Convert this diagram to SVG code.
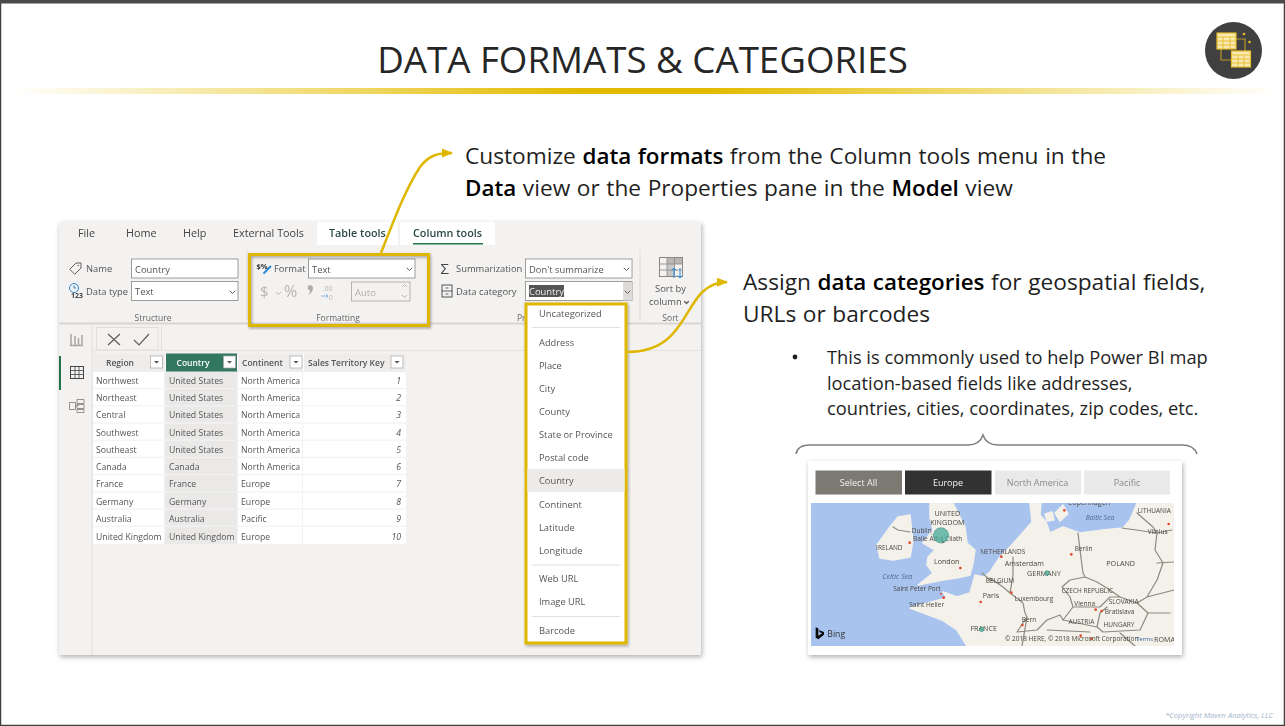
<svg xmlns="http://www.w3.org/2000/svg" width="1285" height="726" viewBox="0 0 1285 726">
<style>
text{font-family:"Open Sans","Noto Sans","Liberation Sans",sans-serif;fill:#252423}
.h{font-size:36.7px;fill:#262626}
.c{font-size:22.7px;fill:#1f1f1f;word-spacing:.7px}
.b{font-weight:600;fill:#000;font-size:22.4px}
.s{font-size:18.3px;fill:#1f1f1f}
.tab{font-size:10.8px;fill:#444}
.tt{font-size:10.8px;font-weight:600;fill:#2c4a48}
.rb{font-size:9.400px;fill:#555}
.sm{font-size:8.5px;fill:#666;text-anchor:middle}
.th{font-size:8.5px;font-weight:600;fill:#555}
.td{font-size:8.7px;fill:#555}
.n{font-size:8.7px;fill:#555;font-style:italic;text-anchor:end}
.dd{font-size:9.3px;fill:#555}
.in{fill:#fff;stroke:#8a8886;stroke-width:.8}
.ln{fill:none;stroke:#605e5c;stroke-width:1;stroke-linecap:round;stroke-linejoin:round}
.dis{fill:none;stroke:#b8b6b4;stroke-width:1}
.gold{fill:none;stroke:#dfb700;stroke-width:3}
.conn{fill:none;stroke:#dfb700;stroke-width:2.5}
.row{fill:#fff}
.cc{fill:#eae9e8}
.fb{fill:#fff;stroke:#a8a6a4;stroke-width:.7}
.sl{font-size:9px;text-anchor:middle}
.m{font-size:21.5px;fill:#4a473f;text-anchor:middle}
.ms{font-size:19.5px;fill:#4a473f;text-anchor:middle}
.bd{fill:none;stroke:#8c897f;stroke-width:1.2;stroke-linejoin:round;stroke-linecap:round}
.rd{fill:#e2492a}
.bub{fill:#4fae9c;stroke:#2f8a79;stroke-width:1.5;fill-opacity:.8}
.tg{fill:#f8e9b0;stroke:#e6bc2e;stroke-width:1.2}
.tl{stroke:#e6bc2e;stroke-width:.9}
</style>
<defs>
<linearGradient id="rule" x1="0" x2="1" y1="0" y2="0">
<stop offset="0" stop-color="#e6c200" stop-opacity="0"/>
<stop offset=".45" stop-color="#e3ba00"/>
<stop offset=".55" stop-color="#e3ba00"/>
<stop offset="1" stop-color="#e6c200" stop-opacity="0"/>
</linearGradient>
<filter id="sh" x="-5%" y="-5%" width="110%" height="110%"><feDropShadow dx="1" dy="2" stdDeviation="2.500" flood-color="#000" flood-opacity=".32"/></filter>
<filter id="sh2" x="-5%" y="-5%" width="110%" height="110%"><feDropShadow dx="1" dy="1.500" stdDeviation="1.500" flood-color="#000" flood-opacity=".35"/></filter>
<filter id="soft" x="-1%" y="-1%" width="102%" height="102%"><feGaussianBlur stdDeviation=".3"/></filter>
<filter id="softer" x="-1%" y="-1%" width="102%" height="102%"><feGaussianBlur stdDeviation=".45"/></filter>
<marker id="arr" markerUnits="userSpaceOnUse" markerWidth="12" markerHeight="10" refX="10" refY="5" orient="auto"><path d="M0 .5L11 5L0 9.500Z" fill="#dfb700"/></marker>
<clipPath id="mc"><rect x="811" y="503" width="363" height="143"/></clipPath>
<clipPath id="mz"><rect x="63" y="220" width="1089" height="429"/></clipPath>
</defs>
<rect width="1285" height="726" fill="#fff"/>
<path d="M.5 3V725.5H1284.5V3" fill="none" stroke="#404040" stroke-width="1.500"/>
<rect width="1285" height="3.500" fill="#4a4a4a"/>

<g id="title">
<text class="h" x="642.500" y="73" text-anchor="middle">DATA FORMATS &amp; CATEGORIES</text>
<rect x="10" y="88" width="1270" height="6" fill="url(#rule)"/>
</g>

<g id="logo">
<circle cx="1233.500" cy="50.500" r="28.500" fill="#404040"/>
<path d="M1236 39H1245V51M1221 48V60H1231" fill="none" stroke="#b8962a" stroke-width="1.200"/>
<rect class="tg" x="1217" y="33" width="19" height="16"/>
<path class="tl" d="M1217 37H1236M1217 41H1236M1217 45H1236M1223 37V49M1230 37V49"/>
<rect class="tg" x="1231.500" y="51" width="19" height="16"/>
<path class="tl" d="M1231.500 55H1250.500M1231.500 59H1250.500M1231.500 63H1250.500M1238 55V67M1244 55V67"/>
<circle cx="1244" cy="34" r="1.300" fill="#e6bc2e"/><circle cx="1249.500" cy="42" r="1.300" fill="#e6bc2e"/>
</g>

<g id="powerbi-window">
<rect x="59" y="222" width="642" height="433" fill="#f3f2f1" filter="url(#sh)"/>
<g filter="url(#soft)">
<rect x="317" y="222" width="81" height="23" fill="#fff"/>
<rect x="400" y="222" width="95" height="23" fill="#fff"/>
<rect x="413" y="243" width="70" height="1.500" fill="#217346"/>
<text class="tab" x="78" y="237">File</text>
<text class="tab" x="126" y="237">Home</text>
<text class="tab" x="183" y="237">Help</text>
<text class="tab" x="233" y="237">External Tools</text>
<text class="tt" x="329" y="237">Table tools</text>
<text class="tt" x="413" y="237">Column tools</text>

<path d="M247 250V320M640 250V321" stroke="#dddbd9" fill="none"/>
<path d="M59 323.500H701" stroke="#d9d7d5" stroke-width="2"/>
<path d="M92 324V655" stroke="#e1dfdd"/>
<path d="M93 350.500H701" stroke="#e6e4e2"/>

<g id="structure-group">
<path class="ln" d="M70 269L76 263H81V268L75 274ZM78 265.500h.5"/>
<text class="rb" x="86" y="272">Name</text>
<rect class="in" x="131.500" y="259" width="106.500" height="19"/>
<text class="rb" x="135" y="272.500">Country</text>
<circle cx="74" cy="288" r="4.500" fill="none" stroke="#2b88d8"/>
<path d="M74 285.500V288H76" fill="none" stroke="#2b88d8"/>
<text x="71" y="298" style="font-size:7px;font-weight:700;fill:#444">123</text>
<text class="rb" x="86" y="295">Data type</text>
<rect class="in" x="131.500" y="281.500" width="106.500" height="19"/>
<text class="rb" x="135" y="295">Text</text>
<path class="ln" d="M230 291l2.500 2.500 2.500-2.500"/>
<text class="sm" x="153" y="321">Structure</text>
</g>

<g id="formatting-group">
<text x="256.500" y="269" style="font-size:7.500px;font-weight:700;fill:#333">$%</text>
<path d="M263.500 273.500L271 266" stroke="#2b88d8" stroke-width="2"/>
<text class="rb" x="274" y="272">Format</text>
<rect class="in" x="308.500" y="259" width="106.500" height="19"/>
<text class="rb" x="312" y="272.500">Text</text>
<path class="ln" d="M407 268l2.500 2.500 2.500-2.500"/>
<text x="260" y="297" style="font-size:15px;fill:#b8b6b4">$</text>
<path class="dis" d="M276 292l2.500 2.500 2.500-2.500"/>
<text x="284" y="297" style="font-size:16px;fill:#b8b6b4">%</text>
<path d="M308.500 285.500a3 3 0 0 1 4.500 2.500c0 3-2 5.500-4.500 7c1-1.500 1.500-3 1.500-4.500a3 3 0 0 1-1.500-5z" fill="#b0aeac"/>
<text x="323" y="291" style="font-size:6.500px;fill:#b8b6b4">.00</text>
<text x="329" y="300" style="font-size:6.500px;fill:#b8b6b4">0</text>
<path d="M321 296H328M326 294L328 296L326 298" fill="none" stroke="#8fb8dc"/>
<rect x="351.500" y="282" width="58.500" height="19" fill="#f3f2f1" stroke="#a8a6a4" stroke-width=".8"/>
<text x="355" y="295.500" style="font-size:9.500px;fill:#b0aeac">Auto</text>
<path class="dis" d="M402 287l2.500-2.500 2.500 2.500M402 295l2.500 2.500 2.500-2.500"/>
<text class="sm" x="338" y="321">Formatting</text>
</g>

<g id="properties-group">
<text x="440.500" y="273.500" style="font-size:15px;fill:#444">Σ</text>
<text class="rb" x="456" y="272">Summarization</text>
<rect class="in" x="525.500" y="259" width="106.500" height="19"/>
<text class="rb" x="529" y="272.500">Don't summarize</text>
<path class="ln" d="M624 268l2.500 2.500 2.500-2.500"/>
<rect x="442" y="285" width="10" height="12" fill="none" stroke="#555"/>
<path class="ln" d="M442 291H452M446 288h2M446 294h2"/>
<text class="rb" x="456" y="295">Data category</text>
<rect class="in" x="525.500" y="281.500" width="106.500" height="19"/>
<rect x="529" y="285" width="35" height="12" fill="#555"/>
<text class="rb" x="529" y="295" style="fill:#eee">Country</text>
<rect x="623" y="282" width="9" height="18.500" fill="#dedcda"/>
<path class="ln" d="M625 291l2.500 2.500 2.500-2.500"/>
<text class="sm" x="517" y="321" style="text-anchor:start">Pr</text>
</g>

<g id="sort-group">
<rect x="659.500" y="257.500" width="23" height="19" fill="#f3f2f1" stroke="#8a8886"/>
<rect x="667" y="258" width="15" height="6" fill="#b9b7b5"/>
<rect x="667" y="264" width="7.500" height="12" fill="#c9c7c5"/>
<path d="M659.500 264H682.500M659.500 270H682.500M667 258V276M674.500 258V276" stroke="#8a8886" stroke-width=".8"/>
<path d="M674 278V268M671.500 270.500L674 268L676.500 270.500M680 268V278M677.500 275.500L680 278L682.500 275.500" fill="none" stroke="#2b88d8"/>
<text class="rb" x="670.500" y="292" text-anchor="middle">Sort by</text>
<text class="rb" x="649" y="305">column</text>
<path class="ln" d="M684.500 301.500l2 2 2-2" style="stroke-width:1.300"/>
<text class="sm" x="670.500" y="321">Sort</text>
</g>

<g id="view-rail">
<path d="M71 345V334M75 345V336M78.500 345V338M82 345V335M70 345.500H83" stroke="#a8a6a4" stroke-width="1.500" fill="none"/>
<rect x="59" y="356" width="2" height="34" fill="#217346"/>
<rect x="70.500" y="366.500" width="13" height="12" fill="none" stroke="#444"/>
<path d="M70.500 370.500H83.500M70.500 374.500H83.500M75 366.500V378.500M79 366.500V378.500" stroke="#444" stroke-width=".8"/>
<path d="M69.500 402.500h6v7h-6zM75.500 405.500h3M77 399.500h7v4h-7zM77 404.500h7v4h-7zM77 409.500h7v3h-7z" fill="none" stroke="#8a8886" stroke-width=".9"/>
</g>

<g id="formula-bar">
<rect x="96.500" y="327.500" width="61.500" height="22.500" fill="#f3f2f1" stroke="#e1dfdd"/>
<path d="M108 334L120 345M120 334L108 345" stroke="#605e5c" stroke-width="1.200"/>
<path d="M134 340L139 345L149 334" fill="none" stroke="#605e5c" stroke-width="1.200"/>
<path d="M161.500 327V350" stroke="#e1dfdd"/>
</g>

<g id="data-table">
<rect x="93" y="353.500" width="313" height="18" fill="#eeedec"/>
<rect x="166" y="353.500" width="71.500" height="18" fill="#33775f"/>
<path d="M165.500 353.500V371M237.500 353.500V371M303.500 353.500V371" stroke="#fff"/>
<text class="th" x="106" y="365.500">Region</text>
<text class="th" x="176.500" y="365.500" style="fill:#fff">Country</text>
<text class="th" x="242" y="365.500">Continent</text>
<text class="th" x="308" y="365.500">Sales Territory Key</text>
<rect class="fb" x="150.500" y="356" width="12" height="12"/>
<rect class="fb" x="223.500" y="356" width="12" height="12"/>
<rect class="fb" x="290" y="356" width="12" height="12"/>
<rect class="fb" x="391" y="356" width="12" height="12"/>
<path d="M154 361h5l-2.500 2.500zM227 361h5l-2.500 2.500zM293.500 361h5l-2.500 2.500zM394.500 361h5l-2.500 2.500z" fill="#555"/>
<g>
<rect class="row" x="93" y="372" width="71" height="16"/><rect class="cc" x="165" y="372" width="72" height="16"/><rect class="row" x="238" y="372" width="64" height="16"/><rect class="row" x="303" y="372" width="103" height="16"/>
<rect class="row" x="93" y="389.200" width="71" height="16"/><rect class="cc" x="165" y="389.200" width="72" height="16"/><rect class="row" x="238" y="389.200" width="64" height="16"/><rect class="row" x="303" y="389.200" width="103" height="16"/>
<rect class="row" x="93" y="406.400" width="71" height="16"/><rect class="cc" x="165" y="406.400" width="72" height="16"/><rect class="row" x="238" y="406.400" width="64" height="16"/><rect class="row" x="303" y="406.400" width="103" height="16"/>
<rect class="row" x="93" y="423.600" width="71" height="16"/><rect class="cc" x="165" y="423.600" width="72" height="16"/><rect class="row" x="238" y="423.600" width="64" height="16"/><rect class="row" x="303" y="423.600" width="103" height="16"/>
<rect class="row" x="93" y="440.800" width="71" height="16"/><rect class="cc" x="165" y="440.800" width="72" height="16"/><rect class="row" x="238" y="440.800" width="64" height="16"/><rect class="row" x="303" y="440.800" width="103" height="16"/>
<rect class="row" x="93" y="458" width="71" height="16"/><rect class="cc" x="165" y="458" width="72" height="16"/><rect class="row" x="238" y="458" width="64" height="16"/><rect class="row" x="303" y="458" width="103" height="16"/>
<rect class="row" x="93" y="475.200" width="71" height="16"/><rect class="cc" x="165" y="475.200" width="72" height="16"/><rect class="row" x="238" y="475.200" width="64" height="16"/><rect class="row" x="303" y="475.200" width="103" height="16"/>
<rect class="row" x="93" y="492.400" width="71" height="16"/><rect class="cc" x="165" y="492.400" width="72" height="16"/><rect class="row" x="238" y="492.400" width="64" height="16"/><rect class="row" x="303" y="492.400" width="103" height="16"/>
<rect class="row" x="93" y="509.600" width="71" height="16"/><rect class="cc" x="165" y="509.600" width="72" height="16"/><rect class="row" x="238" y="509.600" width="64" height="16"/><rect class="row" x="303" y="509.600" width="103" height="16"/>
<rect class="row" x="93" y="526.800" width="71" height="17"/><rect class="cc" x="165" y="526.800" width="72" height="17"/><rect class="row" x="238" y="526.800" width="64" height="17"/><rect class="row" x="303" y="526.800" width="103" height="17"/>
</g>
<text class="td" x="96" y="384">Northwest</text><text class="td" x="169" y="384">United States</text><text class="td" x="241" y="384">North America</text><text class="n" x="401" y="384">1</text>
<text class="td" x="96" y="401">Northeast</text><text class="td" x="169" y="401">United States</text><text class="td" x="241" y="401">North America</text><text class="n" x="401" y="401">2</text>
<text class="td" x="96" y="418">Central</text><text class="td" x="169" y="418">United States</text><text class="td" x="241" y="418">North America</text><text class="n" x="401" y="418">3</text>
<text class="td" x="96" y="435.500">Southwest</text><text class="td" x="169" y="435.500">United States</text><text class="td" x="241" y="435.500">North America</text><text class="n" x="401" y="435.500">4</text>
<text class="td" x="96" y="453">Southeast</text><text class="td" x="169" y="453">United States</text><text class="td" x="241" y="453">North America</text><text class="n" x="401" y="453">5</text>
<text class="td" x="96" y="470">Canada</text><text class="td" x="169" y="470">Canada</text><text class="td" x="241" y="470">North America</text><text class="n" x="401" y="470">6</text>
<text class="td" x="96" y="487">France</text><text class="td" x="169" y="487">France</text><text class="td" x="241" y="487">Europe</text><text class="n" x="401" y="487">7</text>
<text class="td" x="96" y="505">Germany</text><text class="td" x="169" y="505">Germany</text><text class="td" x="241" y="505">Europe</text><text class="n" x="401" y="505">8</text>
<text class="td" x="96" y="522">Australia</text><text class="td" x="169" y="522">Australia</text><text class="td" x="241" y="522">Pacific</text><text class="n" x="401" y="522">9</text>
<text class="td" x="96" y="540">United Kingdom</text><text class="td" x="169" y="540">United Kingdom</text><text class="td" x="241" y="540">Europe</text><text class="n" x="401" y="540">10</text>
</g>
</g>
</g>

<g id="formatting-highlight">
<rect class="gold" x="249.500" y="254.500" width="179" height="71" filter="url(#sh2)"/>
</g>

<g id="category-dropdown">
<rect x="526" y="304" width="100" height="339" fill="#fff" stroke="#dfb700" stroke-width="3" filter="url(#sh2)"/>
<g filter="url(#soft)">
<path d="M532 327.500H620M532 565H620M532 616.500H620" stroke="#e1dfdd" stroke-width="1.200"/>
<rect x="527.500" y="469" width="97" height="23" fill="#edebe9"/>
<text class="dd" x="539" y="317">Uncategorized</text>
<text class="dd" x="539" y="346">Address</text>
<text class="dd" x="539" y="369">Place</text>
<text class="dd" x="539" y="392">City</text>
<text class="dd" x="539" y="415">County</text>
<text class="dd" x="539" y="438">State or Province</text>
<text class="dd" x="539" y="461">Postal code</text>
<text class="dd" x="539" y="484">Country</text>
<text class="dd" x="539" y="508">Continent</text>
<text class="dd" x="539" y="531">Latitude</text>
<text class="dd" x="539" y="554">Longitude</text>
<text class="dd" x="539" y="582">Web URL</text>
<text class="dd" x="539" y="605">Image URL</text>
<text class="dd" x="539" y="634">Barcode</text>
</g>
</g>

<g id="connectors">
<path class="conn" marker-end="url(#arr)" d="M381 253C394 220 405 190 420 167C429 155 438 153 452 153"/>
<path class="conn" marker-end="url(#arr)" d="M627 352C695 352 680 283 727 282"/>
</g>

<g id="callout-formats">
<text class="c" x="465" y="164">Customize <tspan class="b">data formats</tspan> from the Column tools menu in the</text>
<text class="c" x="465" y="196"><tspan class="b">Data</tspan> view or the Properties pane in the <tspan class="b">Model</tspan> view</text>
</g>
<g id="callout-categories">
<text class="c" x="743" y="290">Assign <tspan class="b">data categories</tspan> for geospatial fields,</text>
<text class="c" x="743" y="322">URLs or barcodes</text>
<circle cx="795" cy="357" r="2.400" fill="#1f1f1f"/>
<text class="s" x="827" y="364">This is commonly used to help Power BI map</text>
<text class="s" x="827" y="390">location-based fields like addresses,</text>
<text class="s" x="827" y="415">countries, cities, coordinates, zip codes, etc.</text>
</g>

<g id="brace">
<path d="M796 454C797 448 802 445 810 445H968C976 445 981 441 983 435C985 441 990 445 998 445H1182C1190 445 1195 448 1197 454" fill="none" stroke="#7f7f7f" stroke-width="1.500"/>
</g>

<g id="map-visual">
<rect x="808" y="461" width="374" height="194" fill="#fff" filter="url(#sh)"/>
<g filter="url(#soft)">
<rect x="815.500" y="470.500" width="86.500" height="24" fill="#7b7973"/>
<rect x="905" y="470.500" width="86.500" height="24" fill="#333"/>
<rect x="995" y="470.500" width="86" height="24" fill="#e9e9e9"/>
<rect x="1084" y="470.500" width="86" height="24" fill="#e9e9e9"/>
<text class="sl" x="858.500" y="486" style="fill:#f2f2f2">Select All</text>
<text class="sl" x="948" y="486" style="fill:#f2f2f2">Europe</text>
<text class="sl" x="1037.500" y="486" style="fill:#8a8a8a">North America</text>
<text class="sl" x="1127" y="486" style="fill:#8a8a8a">Pacific</text>
</g>
<g clip-path="url(#mc)">
<g filter="url(#softer)">
<rect x="811" y="503" width="363" height="143" fill="#a9c3ef"/>
<g fill="#f3f1ea" stroke="#f3f1ea" stroke-width="1.500" stroke-linejoin="round">
<path d="M1030 503L1032 522L1018 538L1010 547L1000 557L990 572L983 577L975 575L970 593L957 597L943 592L947 598L927 603L910 608L942 620L957 630L967 646H1174V503H1137L1130 520L1123 528L1103 530L1080 533L1063 527L1050 533L1046 522L1040 515L1041 503Z"/>
<path d="M930 503L953 503L965 527L967 543L975 550L973 563L970 575L957 578L943 580L928 583L918 585L933 573L927 565L928 557L935 550L923 543L933 530L930 517Z"/>
<path d="M877 545L890 527L898 517L910 515L912 533L913 540L910 557L893 560L880 558Z"/>
<path d="M1045 514L1052 512L1054 520L1047 521Z"/>
<path d="M1055 513L1063 505L1068 514L1060 521Z"/>
</g>
<path class="bd" d="M893 527L898 530L910 532M1078 533L1080 550L1083 573L1085 577M1085 577L1097 582L1110 590L1120 597M1085 577L1070 580L1062 587L1070 597L1073 607M1073 607L1100 607L1110 597L1120 597L1137 603M1122 528L1157 533L1155 550L1163 563L1157 580L1147 597L1137 603L1148 613L1140 630L1103 632L1097 627L1100 613L1107 607M1137 513L1153 527L1157 533M1172 530L1157 533M1157 563L1174 562M1147 597L1174 590M1013 557L1013 575L1010 593L1023 603L1025 613L1027 617L1017 632L1037 630L1047 620M1047 620L1060 615L1063 620L1097 627M1063 620L1073 607M1047 630L1090 632M1170 613L1148 613M990 578L1003 587L1010 593M982 573L990 580L1000 583M1027 617L1022 646M1120 633L1135 646"/>
</g>
</g>
<g filter="url(#soft)" transform="translate(790 430) scale(.33333)">
<g clip-path="url(#mz)">
<circle class="rd" cx="359" cy="338" r="4"/><circle class="rd" cx="459" cy="336" r="4"/><circle class="rd" cx="511" cy="414" r="4"/><circle class="rd" cx="634" cy="380" r="4"/><circle class="rd" cx="823" cy="241" r="4"/><circle class="rd" cx="844" cy="373" r="4"/><circle class="rd" cx="1136" cy="282" r="4"/><circle class="rd" cx="664" cy="488" r="4"/><circle class="rd" cx="572" cy="516" r="4"/><circle class="rd" cx="453" cy="491" r="3"/><circle class="rd" cx="461" cy="503" r="4"/><circle class="rd" cx="917" cy="539" r="4"/><circle class="rd" cx="935" cy="543" r="4"/><circle class="rd" cx="697" cy="585" r="4"/><circle class="rd" cx="872" cy="617" r="4"/><circle class="rd" cx="905" cy="626" r="4"/>
<text class="m" x="472" y="257">UNITED</text><text class="m" x="472" y="284">KINGDOM</text>
<text class="ms" x="395" y="309">Dublin</text><text class="ms" x="443" y="332">Baile Átha Cliath</text>
<text class="ms" x="298" y="361">IRELAND</text><text class="m" x="470" y="403">London</text>
<text class="ms" x="638" y="371">NETHERLANDS</text><text class="m" x="703" y="407">Amsterdam</text>
<text class="m" x="762" y="439">GERMANY</text><text class="ms" x="881" y="363">Berlin</text>
<text class="m" x="992" y="409">POLAND</text><text class="ms" x="630" y="458">BELGIUM</text>
<text class="m" x="603" y="505">Paris</text><text class="ms" x="732" y="513">Luxembourg</text>
<text class="ms" x="381" y="482">Saint Peter Port</text><text class="ms" x="410" y="530">Saint Helier</text>
<text class="m" x="322" y="448" style="fill:#4d6a96;font-style:italic">Celtic Sea</text>
<text class="m" x="930" y="271" style="fill:#4d6a96;font-style:italic;font-size:20px">Baltic Sea</text>
<text class="m" x="897" y="226">Copenhagen</text><text class="ms" x="1093" y="248">LITHUANIA</text><text class="ms" x="1103" y="312">Vilnius</text>
<text class="ms" x="892" y="490">CZECH REPUBLIC</text><text class="ms" x="884" y="527">Vienna</text><text class="ms" x="1001" y="521">SLOVAKIA</text><text class="ms" x="989" y="552">Bratislava</text>
<text class="ms" x="874" y="581">AUSTRIA</text><text class="ms" x="987" y="590">HUNGARY</text><text class="ms" x="717" y="575">Bern</text>
<text class="m" x="581" y="604">FRANCE</text>
<text class="ms" x="845" y="634">© 2018 HERE, © 2018 Microsoft Corporation</text><text class="ms" x="1064" y="634" style="fill:#3a5fa8;font-size:17px">Terms</text><text class="m" x="1092" y="636" style="text-anchor:start">ROMAN</text>
<circle class="bub" cx="453" cy="316" r="23"/><circle class="bub" cx="771" cy="429" r="7"/><circle class="bub" cx="575" cy="598" r="7"/>
<path d="M77 592L85 595V617L96 610L89 607L86 600L102 606V614L85 628L77 623Z" fill="#111"/>
<text x="112" y="622" style="font-size:26px;fill:#333">Bing</text>
</g>
</g>
</g>

<g id="copyright">
<text x="1273" y="718" text-anchor="end" style="font-size:7.600px;font-style:italic;fill:#a3b4c8">*Copyright Maven Analytics, LLC</text>
</g>
</svg>
